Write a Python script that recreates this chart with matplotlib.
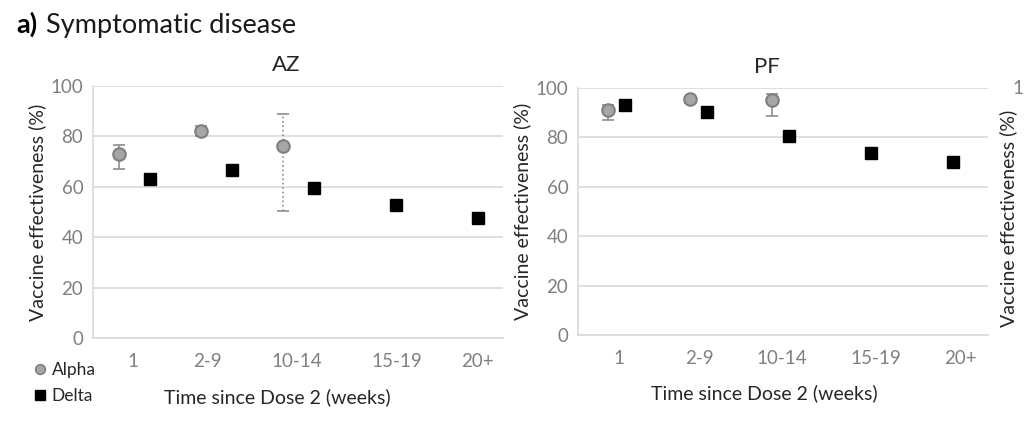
import numpy as np
import matplotlib
matplotlib.use('Agg')
import matplotlib.pyplot as plt
from matplotlib.lines import Line2D

plt.rcParams['font.family'] = ['Lato', 'DejaVu Sans']

categories = ['1', '2-9', '10-14', '15-19', '20+']

# AZ panel
az_alpha = [72.9, 82.0, 76.3]
az_alpha_lo = [67.1, 80.0, 50.3]
az_alpha_hi = [76.6, 84.0, 89.0]
az_delta = [63.1, 66.7, 59.5, 52.9, 47.7]

# PF panel
pf_alpha = [91.1, 95.5, 95.0]
pf_alpha_lo = [86.9, 94.0, 88.6]
pf_alpha_hi = [93.0, 96.5, 97.6]
pf_delta = [93.0, 90.3, 80.4, 73.6, 70.0]

W, H = 1024, 425
fig = plt.figure(figsize=(W/100, H/100), dpi=100)

grid_c = '#d9d9d9'
tick_c = '#808080'
alpha_face = '#a6a6a6'
alpha_edge = '#7f7f7f'


def panel(rect, title, title_x, xlab_x, alpha, lo, hi, delta, offset, xlim, tickpos, dotted_idx):
    ax = fig.add_axes(rect)
    xd = np.arange(1, len(delta) + 1)
    xa = xd[:len(alpha)] - offset
    a = np.array(alpha)
    yerr = [a - np.array(lo), np.array(hi) - a]
    for i in range(len(alpha)):
        ls = ':' if i == dotted_idx else '-'
        eb = ax.errorbar(xa[i], a[i], yerr=[[yerr[0][i]], [yerr[1][i]]], fmt='none',
                         ecolor='#8c8c8c', elinewidth=1.2, capsize=4, capthick=1.2, zorder=3)
        eb[2][0].set_linestyle(ls)
    ax.plot(xa, a, 'o', ms=9, mfc=alpha_face, mec=alpha_edge, mew=1.5, zorder=4)
    ax.plot(xd, delta, 's', ms=8, mfc='black', mec='black', zorder=4)
    ax.set_ylim(0, 100)
    ax.set_xlim(*xlim)
    ax.set_yticks(range(0, 101, 20))
    ax.yaxis.grid(True, color=grid_c, lw=1.2)
    ax.set_axisbelow(True)
    ax.set_xticks(tickpos)
    ax.set_xticklabels(categories)
    ax.tick_params(length=0, colors=tick_c, labelsize=13.5, pad=7)
    ax.tick_params(axis='x', pad=11)
    for s in ['top', 'right']:
        ax.spines[s].set_visible(False)
    for s in ['left', 'bottom']:
        ax.spines[s].set_color(grid_c)
        ax.spines[s].set_linewidth(1.2)
    ax.set_ylabel('Vaccine effectiveness (%)', fontsize=14, color='#262626', labelpad=3)
    ax.set_xlabel('Time since Dose 2 (weeks)', fontsize=14, color='#262626')
    ax.xaxis.set_label_coords(xlab_x, -0.2)
    ax.text(title_x, 1.045, title, transform=ax.transAxes, ha='center', va='bottom',
            fontsize=16, color='#262626')
    return ax


ax1 = panel([93/W, 1-338/H, 410/W, 252/H], 'AZ', 0.47, 0.449, az_alpha, az_alpha_lo, az_alpha_hi,
            az_delta, 0.38, (0.3, 5.3), [0.79, 1.70, 2.78, 4.01, 4.99], 2)
ax2 = panel([578/W, 1-335/H, 410/W, 247/H], 'PF', 0.46, 0.454, pf_alpha, pf_alpha_lo, pf_alpha_hi,
            pf_delta, 0.2, (0.43, 5.43), [0.93, 1.91, 2.92, 4.06, 5.1], -1)

# cropped third panel at the right edge
fig.text(1008/W, 1-218/H, 'Vaccine effectiveness (%)', rotation=90, ha='center', va='center',
         fontsize=14, color='#262626')
fig.text(1012/W, 1-88/H, '1', ha='left', va='center', fontsize=13.5, color=tick_c)

fig.text(16/W, 1-33/H, 'a)', ha='left', va='baseline', fontsize=19.5, fontweight='bold', color='black')
fig.text(46/W, 1-33/H, 'Symptomatic disease', ha='left', va='baseline', fontsize=19.5, color='#1a1a1a')

handles = [Line2D([], [], ls='none', marker='o', ms=7, mfc=alpha_face, mec=alpha_edge, mew=1.2),
           Line2D([], [], ls='none', marker='s', ms=7, mfc='black', mec='black')]
fig.legend(handles, ['Alpha', 'Delta'], loc='center left', bbox_to_anchor=(17/W, 1-383/H),
           frameon=False, fontsize=12.5, handlelength=0.8, handletextpad=0.3, labelspacing=0.55,
           labelcolor='#262626')

fig.savefig('out.png', dpi=100)
